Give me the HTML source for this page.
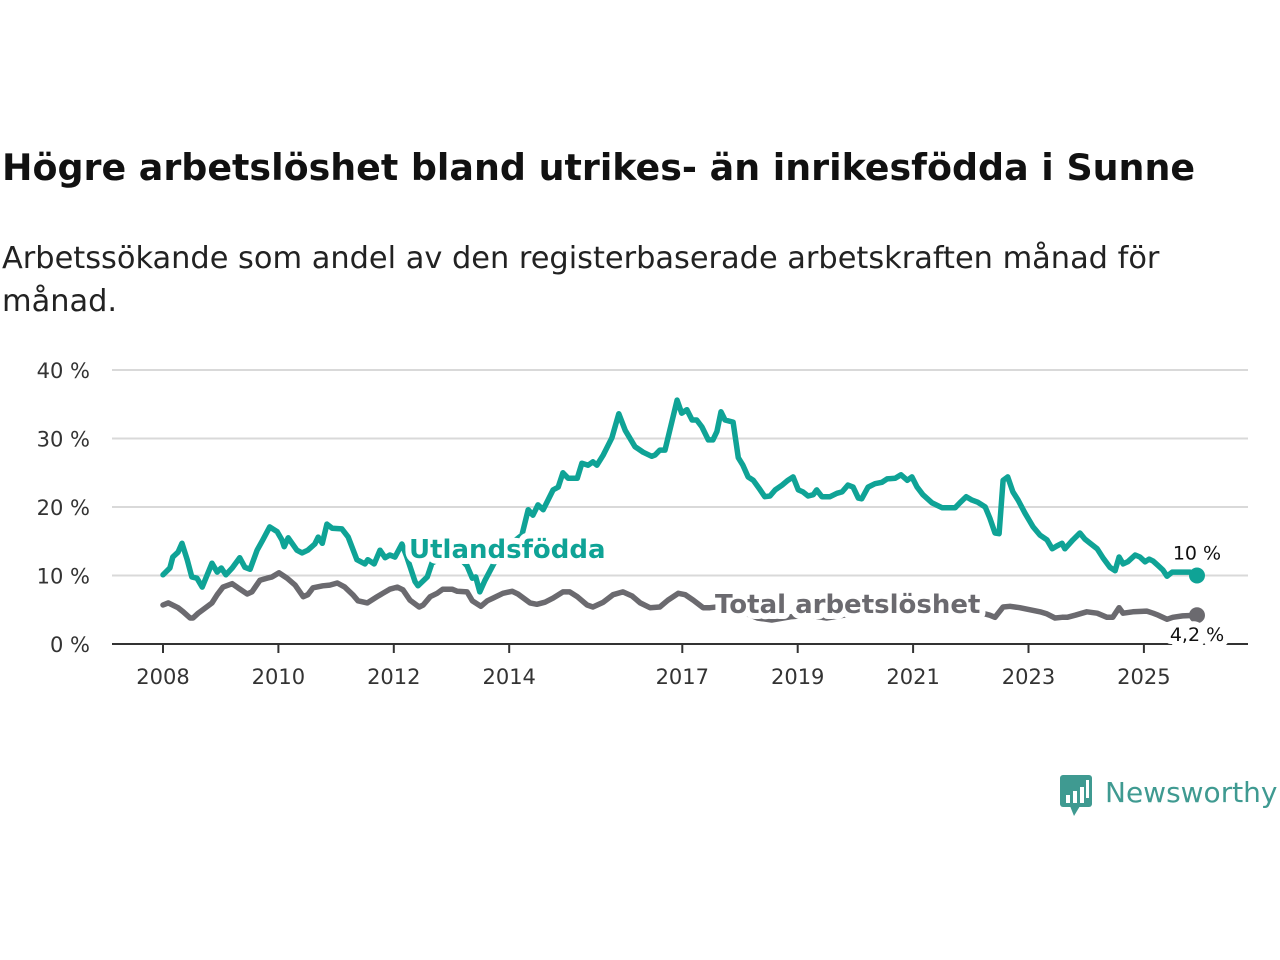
<!DOCTYPE html>
<html><head><meta charset="utf-8"><style>
html,body{margin:0;padding:0;background:#fff;}
body{width:1280px;height:960px;position:relative;overflow:hidden;font-family:"DejaVu Sans","Liberation Sans",sans-serif;}
#title{position:absolute;left:2px;top:146px;font-size:36.4px;font-weight:bold;color:#111;margin:0;white-space:nowrap;}
#subtitle{position:absolute;left:2px;top:237px;font-size:30.4px;line-height:43px;color:#222;width:1190px;margin:0;}
svg{position:absolute;left:0;top:0;}
</style></head><body>
<h1 id="title">Högre arbetslöshet bland utrikes- än inrikesfödda i Sunne</h1>
<p id="subtitle">Arbetssökande som andel av den registerbaserade arbetskraften månad för månad.</p>
<svg id="chart" width="1280" height="960"></svg>
<script>
const yTicks=[0,10,20,30,40];
const yTickLabels=["0 %","10 %","20 %","30 %","40 %"];
const xTicks=[2008,2010,2012,2014,2017,2019,2021,2023,2025];
const tealT=[2008.00,2008.12,2008.17,2008.26,2008.33,2008.42,2008.50,2008.59,2008.68,2008.85,2008.94,2009.01,2009.09,2009.20,2009.33,2009.42,2009.51,2009.63,2009.73,2009.85,2009.98,2010.06,2010.10,2010.17,2010.32,2010.41,2010.51,2010.63,2010.69,2010.76,2010.84,2010.93,2011.10,2011.21,2011.36,2011.50,2011.55,2011.66,2011.76,2011.85,2011.93,2012.02,2012.14,2012.23,2012.37,2012.42,2012.58,2012.66,2012.80,2012.97,2013.15,2013.27,2013.36,2013.42,2013.49,2013.58,2013.72,2013.84,2014.01,2014.22,2014.33,2014.41,2014.50,2014.59,2014.76,2014.85,2014.93,2015.02,2015.18,2015.26,2015.37,2015.45,2015.52,2015.63,2015.78,2015.90,2016.01,2016.18,2016.32,2016.47,2016.53,2016.61,2016.70,2016.91,2016.99,2017.08,2017.17,2017.25,2017.34,2017.45,2017.53,2017.60,2017.67,2017.74,2017.88,2017.97,2018.05,2018.14,2018.23,2018.35,2018.43,2018.52,2018.61,2018.73,2018.83,2018.92,2019.01,2019.09,2019.18,2019.27,2019.33,2019.42,2019.56,2019.68,2019.77,2019.87,2019.96,2020.05,2020.11,2020.22,2020.34,2020.46,2020.55,2020.69,2020.79,2020.90,2020.98,2021.07,2021.17,2021.33,2021.50,2021.73,2021.81,2021.92,2022.02,2022.12,2022.25,2022.33,2022.42,2022.49,2022.56,2022.64,2022.73,2022.82,2022.94,2023.08,2023.20,2023.32,2023.41,2023.49,2023.58,2023.63,2023.77,2023.89,2023.98,2024.07,2024.19,2024.29,2024.41,2024.50,2024.57,2024.64,2024.72,2024.85,2024.93,2025.02,2025.09,2025.16,2025.24,2025.33,2025.40,2025.49,2025.63,2025.80,2025.92];
const tealV=[10.1,11.1,12.7,13.4,14.7,12.3,9.8,9.6,8.3,11.8,10.5,11.1,10.1,11.1,12.6,11.2,10.9,13.7,15.2,17.1,16.4,15.2,14.2,15.5,13.7,13.3,13.7,14.6,15.6,14.7,17.5,16.9,16.8,15.6,12.3,11.7,12.3,11.7,13.7,12.6,13.0,12.7,14.6,12.6,9.1,8.5,9.8,11.8,12.5,13.0,12.5,11.4,9.6,9.8,7.6,9.3,11.5,13.5,14.5,15.9,19.6,18.8,20.3,19.6,22.5,22.9,25.0,24.2,24.2,26.4,26.1,26.6,26.1,27.6,30.1,33.6,31.2,28.8,28.0,27.4,27.6,28.3,28.3,35.6,33.7,34.2,32.7,32.7,31.7,29.8,29.8,31.0,33.9,32.7,32.4,27.2,26.1,24.4,23.9,22.5,21.5,21.6,22.5,23.2,23.9,24.4,22.5,22.2,21.6,21.8,22.5,21.5,21.5,22.0,22.2,23.2,22.9,21.3,21.2,22.9,23.4,23.6,24.1,24.2,24.7,23.9,24.4,22.9,21.8,20.6,19.9,19.9,20.6,21.5,21.0,20.7,20.0,18.4,16.2,16.1,23.9,24.4,22.2,21.0,19.1,17.1,15.9,15.2,13.9,14.3,14.7,13.9,15.2,16.2,15.3,14.7,13.9,12.6,11.2,10.7,12.7,11.7,12.0,13.0,12.7,12.0,12.4,12.1,11.5,10.8,9.9,10.5,10.5,10.5,10.0];
const grayT=[2008.00,2008.09,2008.26,2008.35,2008.47,2008.52,2008.61,2008.69,2008.85,2008.94,2009.04,2009.20,2009.30,2009.46,2009.54,2009.68,2009.80,2009.89,2010.01,2010.15,2010.29,2010.43,2010.51,2010.60,2010.77,2010.89,2011.02,2011.15,2011.29,2011.38,2011.54,2011.71,2011.81,2011.93,2012.06,2012.16,2012.28,2012.44,2012.51,2012.63,2012.75,2012.85,2013.01,2013.10,2013.27,2013.36,2013.51,2013.62,2013.72,2013.89,2014.05,2014.15,2014.36,2014.48,2014.62,2014.76,2014.93,2015.05,2015.18,2015.35,2015.45,2015.63,2015.80,2015.97,2016.13,2016.27,2016.44,2016.61,2016.75,2016.93,2017.05,2017.19,2017.36,2017.48,2017.70,2018.00,2018.30,2018.55,2018.90,2019.20,2019.50,2019.80,2020.10,2020.40,2020.80,2021.20,2021.60,2022.00,2022.20,2022.33,2022.42,2022.56,2022.68,2022.85,2023.03,2023.20,2023.32,2023.46,2023.58,2023.67,2023.81,2024.01,2024.19,2024.36,2024.46,2024.57,2024.64,2024.81,2025.05,2025.16,2025.25,2025.40,2025.50,2025.67,2025.92];
const grayV=[5.7,6.0,5.3,4.7,3.8,3.8,4.5,5.0,6.0,7.2,8.3,8.8,8.2,7.3,7.6,9.3,9.6,9.8,10.4,9.6,8.6,6.9,7.2,8.2,8.5,8.6,8.9,8.3,7.2,6.3,6.0,6.9,7.4,8.0,8.3,7.9,6.4,5.4,5.7,6.9,7.4,8.0,8.0,7.7,7.6,6.3,5.5,6.3,6.7,7.4,7.7,7.3,6.0,5.8,6.1,6.7,7.6,7.6,6.9,5.7,5.4,6.1,7.2,7.6,7.0,6.0,5.3,5.4,6.4,7.4,7.2,6.4,5.3,5.3,5.5,4.8,3.8,3.5,4.0,4.2,3.8,4.2,4.5,5.0,4.8,4.6,4.5,4.8,4.5,4.2,3.9,5.4,5.5,5.3,5.0,4.7,4.4,3.8,3.9,3.9,4.2,4.7,4.5,3.9,3.9,5.3,4.5,4.7,4.8,4.5,4.2,3.6,3.9,4.1,4.2];
const endLabels=["10 %","4,2 %"];

const NS="http://www.w3.org/2000/svg";
const svg=document.getElementById('chart');
const X0=112,X1=1248,Y0=644,Y40=370;
const xs=t=>163+(t-2008)*57.7;
const ys=v=>Y0-(v/40)*(Y0-Y40);
function mk(tag,attrs){const e=document.createElementNS(NS,tag);for(const k in attrs)e.setAttribute(k,attrs[k]);svg.appendChild(e);return e;}
const TEAL="#0fa396",GRAY="#6b6a6f";
yTicks.forEach((v,i)=>{
  if(v>0){const g=mk('line',{x1:X0,x2:X1,y1:ys(v),y2:ys(v),stroke:'#d9d9d9','stroke-width':2});
  
  }
  const t=mk('text',{x:90,y:ys(v)+8,'text-anchor':'end','font-size':21,fill:'#333'});
  t.textContent=yTickLabels[i];
  
  
});
const ax=mk('line',{x1:X0,x2:X1,y1:Y0,y2:Y0,stroke:'#333','stroke-width':2});


xTicks.forEach(y=>{
  const tk=mk('line',{x1:xs(y),x2:xs(y),y1:Y0,y2:Y0+9,stroke:'#333','stroke-width':2});
  
  
  const t=mk('text',{x:xs(y),y:Y0+40,'text-anchor':'middle','font-size':21,fill:'#333'});
  t.textContent=y;
  
  
});
function line(T,V,col,name){
  const d=T.map((t,i)=>(i?'L':'M')+xs(t).toFixed(1)+','+ys(V[i]).toFixed(1)).join('');
  const p=mk('path',{d:d,fill:'none',stroke:col,'stroke-width':5.5,'stroke-linejoin':'round','stroke-linecap':'round'});
  
  
  const c=mk('circle',{cx:xs(T[T.length-1]),cy:ys(V[V.length-1]),r:8,fill:col});
  
  
}
line(grayT,grayV,GRAY,'total-line');
line(tealT,tealV,TEAL,'utlandsfodda-line');
function lbl(txt,x,y,col,size,w,anchor,name){
  const t=mk('text',{x:x,y:y,'font-size':size,'font-weight':w,fill:col,stroke:'#fff','stroke-width':12,'paint-order':'stroke','stroke-linejoin':'round','text-anchor':anchor});
  t.textContent=txt;
  
  
}
lbl('Utlandsfödda',409,558,TEAL,26,'bold','start','series-label-utlandsfodda');
lbl('Total arbetslöshet',715,613,GRAY,26,'bold','start','series-label-total');
lbl(endLabels[0],xs(tealT[tealT.length-1]),ys(tealV[tealV.length-1])-16,'#111',19,'normal','middle','end-value-utlandsfodda');
lbl(endLabels[1],xs(grayT[grayT.length-1]),ys(grayV[grayV.length-1])+26,'#111',19,'normal','middle','end-value-total');
const g=document.createElementNS(NS,'g');svg.appendChild(g);
g.innerHTML='<rect x="1060" y="775" width="32" height="32" rx="3" fill="#3f9a91"/><polygon points="1070,806 1080,806 1074,816" fill="#3f9a91"/><rect x="1066" y="795" width="4" height="8" fill="#fff"/><rect x="1073" y="791" width="4" height="12" fill="#fff"/><rect x="1080" y="787" width="4" height="16" fill="#fff"/><rect x="1086" y="780" width="3" height="18" fill="#fff"/><text x="1105" y="802" font-size="28" fill="#3f9a91" font-family="DejaVu Sans, sans-serif">Newsworthy</text>';
</script>
</body></html>
